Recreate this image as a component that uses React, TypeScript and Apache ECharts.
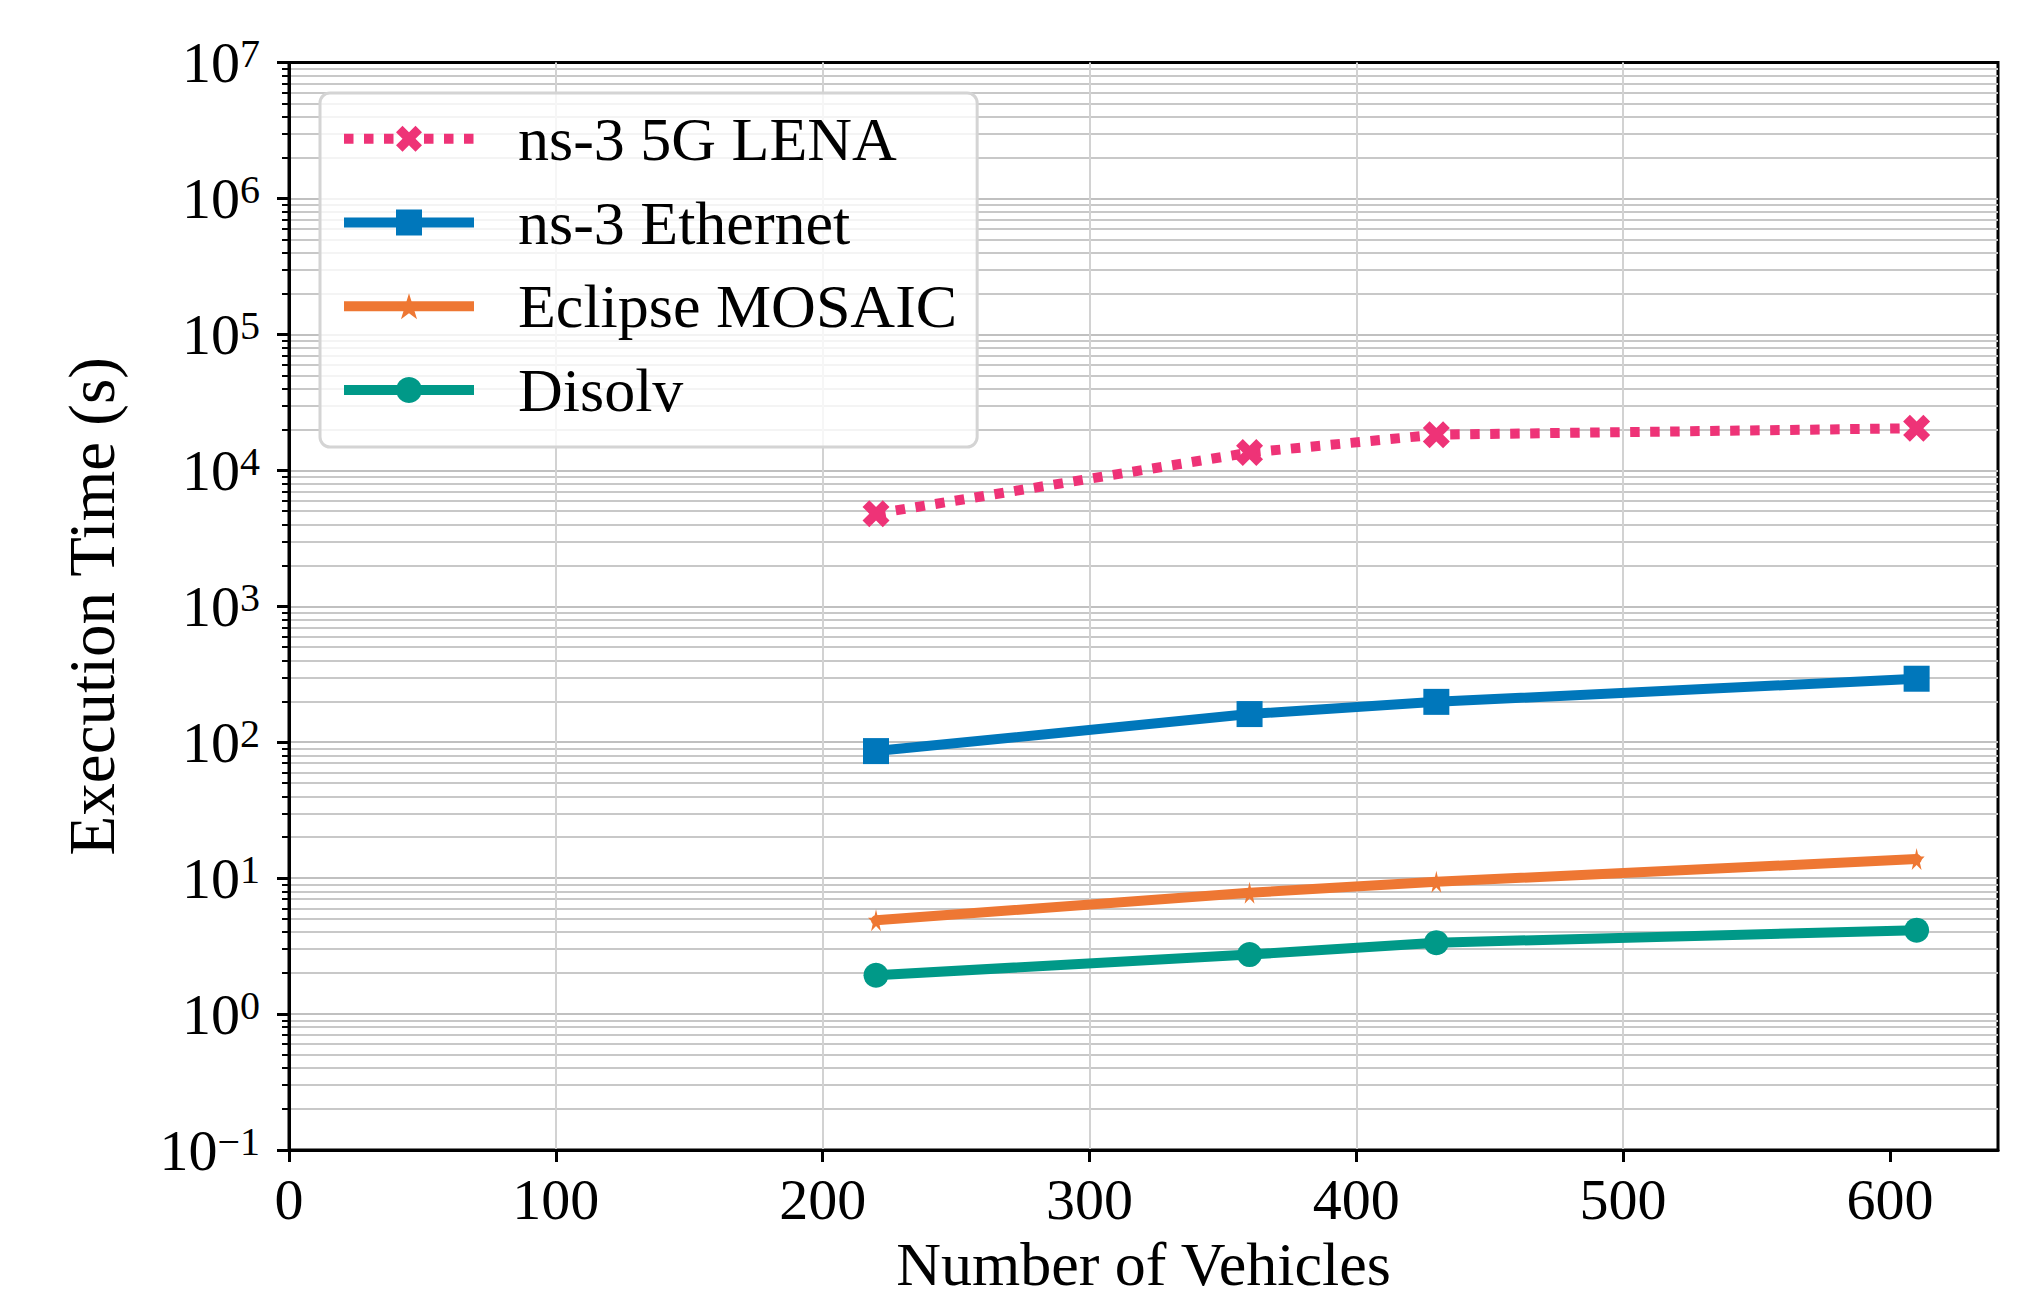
import React, { useEffect, useRef } from 'react';
import * as echarts from 'echarts';

// ---- data ----
const vehicles = [220, 360, 430, 610];
const lenaTimes = [4800, 13500, 18300, 20400];
const ethernetTimes = [86, 161, 198, 293];
const mosaicTimes = [4.9, 7.8, 9.4, 13.8];
const disolvTimes = [1.93, 2.74, 3.35, 4.14];
const seriesNames = ['ns-3 5G LENA', 'ns-3 Ethernet', 'Eclipse MOSAIC', 'Disolv'];
const seriesColors = ['#EE3377', '#0077BB', '#EE7733', '#009988'];
const xTickValues = [0, 100, 200, 300, 400, 500, 600];
const xRange = [0, 640.5];
const yRange = [0.1, 1e7];
const xAxisTitle = 'Number of Vehicles';
const yAxisTitle = 'Execution Time (s)';

const FONT = '"Liberation Serif", "DejaVu Serif", serif';

const X_SYMBOL = 'path://M1,0L2,1L3,0L4,1L3,2L4,3L3,4L2,3L1,4L0,3L1,2L0,1Z';
const STAR_SYMBOL =
  'path://M100,0L122.45,69.1L195.1,69.1L136.3,111.8L158.8,180.9L100,138.2L41.2,180.9L63.7,111.8L4.9,69.1L77.55,69.1Z';

const LINE_W = 10;
const DOTS = [9.5, 10.5];

function pairs(ys: number[]) {
  return vehicles.map((v, i) => [v, ys[i]]);
}

function yLabel(value: number) {
  const e = Math.round(Math.log10(value));
  const exp = e < 0 ? '\u2212' + String(-e) : String(e);
  return '{b|10}{s|' + exp + '}';
}

export default function App() {
  const ref = useRef<HTMLDivElement>(null);

  useEffect(() => {
    if (!ref.current) return;
    const chart = echarts.init(ref.current, null, { renderer: 'svg' });

    const mk = (
      idx: number,
      ys: number[],
      symbol: string,
      symbolSize: any,
      dashed: boolean
    ) => ({
      name: seriesNames[idx],
      type: 'line',
      data: pairs(ys),
      symbol,
      symbolSize,
      showSymbol: true,
      z: 3 + idx,
      lineStyle: {
        color: seriesColors[idx],
        width: LINE_W,
        type: dashed ? DOTS : 'solid',
        cap: dashed ? 'butt' : 'round',
        join: 'round',
      },
      itemStyle: { color: seriesColors[idx], borderWidth: 0 },
      emphasis: { disabled: true },
    });

    const legendData = seriesNames.map((name, i) => ({
      name,
      lineStyle:
        i === 0
          ? { width: LINE_W, type: DOTS, cap: 'butt', color: seriesColors[i] }
          : { width: LINE_W, type: 'solid', cap: 'butt', color: seriesColors[i] },
    }));

    const option: any = {
      animation: false,
      backgroundColor: '#ffffff',
      textStyle: { fontFamily: FONT },
      grid: {
        left: 289,
        right: 28,
        top: 62.5,
        bottom: 147,
        show: true,
        borderColor: '#000000',
        borderWidth: 3,
        backgroundColor: 'transparent',
        containLabel: false,
        outerBoundsMode: 'none',
      },
      legend: {
        show: true,
        orient: 'vertical',
        left: 320,
        top: 93,
        itemWidth: 130,
        itemHeight: 32.5,
        itemGap: 21.8,
        padding: [14.7, 20, 26, 19],
        backgroundColor: 'rgba(255,255,255,0.8)',
        borderColor: '#d4d4d4',
        borderWidth: 3,
        borderRadius: 10,
        selectedMode: false,
        data: legendData,
        formatter: '{t|{name}}',
        textStyle: {
          fontFamily: FONT,
          color: '#000000',
          fontSize: 62,
          rich: {
            t: {
              fontFamily: FONT,
              fontSize: 62,
              lineHeight: 60,
              color: '#000000',
              padding: [0, 0, 0, 39],
              width: 437,
            },
          },
        },
      },
      xAxis: {
        type: 'value',
        min: xRange[0],
        max: xRange[1],
        interval: 100,
        name: xAxisTitle,
        nameLocation: 'middle',
        nameGap: 87,
        nameTextStyle: { fontFamily: FONT, fontSize: 62, lineHeight: 44, color: '#000000' },
        axisLine: { show: true, onZero: false, lineStyle: { color: '#000000', width: 3 } },
        axisTick: {
          show: true,
          length: 12,
          customValues: xTickValues,
          lineStyle: { color: '#000000', width: 3 },
        },
        axisLabel: {
          show: true,
          customValues: xTickValues,
          fontFamily: FONT,
          fontSize: 58,
          color: '#000000',
          margin: 20,
        },
        splitLine: {
          show: true,
          showMinLine: false,
          showMaxLine: false,
          lineStyle: { color: '#d2d2d2', width: 2 },
        },
      },
      yAxis: {
        type: 'log',
        logBase: 10,
        min: yRange[0],
        max: yRange[1],
        splitNumber: 8,
        name: yAxisTitle,
        nameLocation: 'middle',
        nameGap: 165,
        nameTextStyle: { fontFamily: FONT, fontSize: 65, color: '#000000' },
        axisLine: { show: true, onZero: false, lineStyle: { color: '#000000', width: 3 } },
        axisTick: { show: true, length: 12, lineStyle: { color: '#000000', width: 3 } },
        minorTick: {
          show: true,
          splitNumber: 9,
          length: 7,
          lineStyle: { color: '#000000', width: 2 },
        },
        minorSplitLine: { show: true, lineStyle: { color: '#c8c8c8', width: 2 } },
        splitLine: {
          show: true,
          showMinLine: false,
          showMaxLine: false,
          lineStyle: { color: '#c0c0c0', width: 2 },
        },
        axisLabel: {
          show: true,
          margin: 29,
          formatter: yLabel,
          rich: {
            b: { fontFamily: FONT, fontSize: 58, lineHeight: 58, color: '#000000' },
            s: {
              fontFamily: FONT,
              fontSize: 40,
              lineHeight: 26,
              verticalAlign: 'top',
              color: '#000000',
            },
          },
        },
      },
      series: [
        mk(0, lenaTimes, X_SYMBOL, 27, true),
        mk(1, ethernetTimes, 'rect', 26, false),
        mk(2, mosaicTimes, STAR_SYMBOL, [16, 22], false),
        mk(3, disolvTimes, 'circle', 25, false),
      ],
    };

    chart.setOption(option);
    return () => {
      chart.dispose();
    };
  }, []);

  return (
    <div
      ref={ref}
      style={{ position: 'fixed', left: 0, top: 0, width: 2026, height: 1297, background: '#ffffff' }}
    />
  );
}
